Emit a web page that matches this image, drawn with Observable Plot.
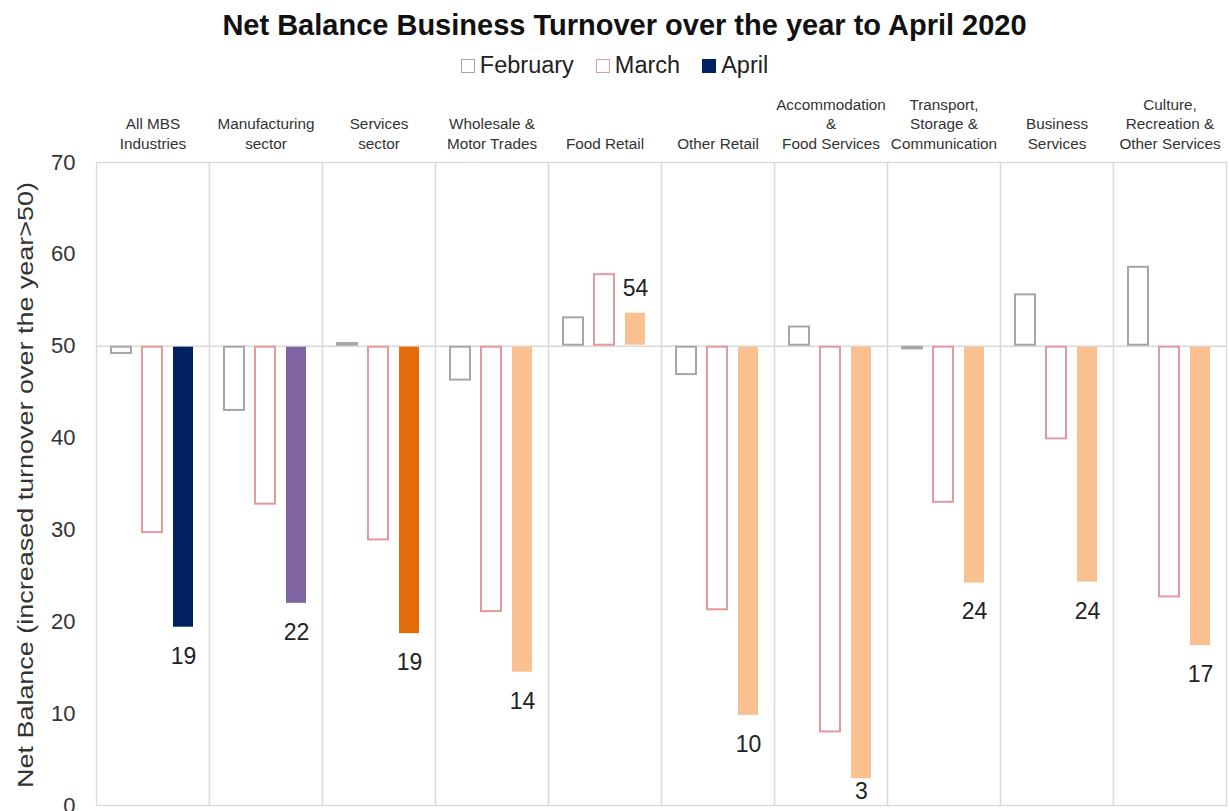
<!DOCTYPE html>
<html>
<head>
<meta charset="utf-8">
<script src="https://cdn.jsdelivr.net/npm/d3@7"></script>
<script src="https://cdn.jsdelivr.net/npm/@observablehq/plot@0.6"></script>
<style>
  body { margin: 0; background: #fff; font-family: "Liberation Sans", Arial, sans-serif; }
  #title { height: 46px; line-height: 50px; text-align: center; font-weight: bold; font-size: 29px; color: #111; padding-left: 20px; white-space: nowrap; }
  #legend { height: 39px; display: flex; justify-content: center; align-items: center; gap: 22px; font-size: 23.5px; color: #222; padding-left: 0px; }
  #legend span.item { display: inline-flex; align-items: center; }
  #legend span.sw { display: inline-block; width: 14px; height: 14px; margin-right: 5px; box-sizing: border-box; }
  #chart svg { display: block; }
</style>
</head>
<body>
<div id="title">Net Balance Business Turnover over the year to April 2020</div>
<div id="legend"></div>
<div id="chart"></div>
<script>
const categories = [
  "All MBS\nIndustries",
  "Manufacturing\nsector",
  "Services\nsector",
  "Wholesale &\nMotor Trades",
  "Food Retail",
  "Other Retail",
  "Accommodation\n&\nFood Services",
  "Transport,\nStorage &\nCommunication",
  "Business\nServices",
  "Culture,\nRecreation &\nOther Services"
];
const months = ["February", "March", "April"];
const february = [49.1, 42.9, 50.4, 46.2, 53.2, 46.8, 52.2, 49.6, 55.7, 58.7];
const march    = [29.6, 32.7, 28.8, 21.0, 57.9, 21.2, 7.9, 32.9, 39.8, 22.6];
const april    = [19.3, 21.9, 18.6, 14.4, 53.7, 9.7, 2.8, 24.1, 24.2, 17.3];
const yTicks = [0, 10, 20, 30, 40, 50, 60, 70];
const yLabel = "Net Balance (increased turnover over the year>50)";

const febStroke = "#a6a6a6";
const marStroke = "#e39a9d";
const aprilColors = ["#002060", "#8064a2", "#e46c0a", "#fac090", "#fac090", "#fac090", "#fac090", "#fac090", "#fac090", "#fac090"];

const series = {February: february, March: march, April: april};
const rows = categories.flatMap((c, i) => months.map(m => ({cat: c, month: m, value: series[m][i], i})));
const aprRows = rows.filter(d => d.month === "April");

// Legend
const legend = document.getElementById("legend");
[["February", "#fff", febStroke], ["March", "#fff", marStroke], ["April", "#002060", "#002060"]].forEach(([t, f, s]) => {
  const it = document.createElement("span"); it.className = "item";
  const sw = document.createElement("span"); sw.className = "sw";
  sw.style.background = f; sw.style.border = `1.5px solid ${s}`;
  it.appendChild(sw); it.appendChild(document.createTextNode(t));
  legend.appendChild(it);
});

const chart = Plot.plot({
  width: 1229,
  height: 726,
  marginTop: 77,
  marginBottom: 6,
  marginLeft: 93,
  marginRight: 1,
  style: {fontFamily: "Liberation Sans, Arial, sans-serif", background: "#fff"},
  fx: {domain: categories, padding: 0, label: null},
  x: {domain: months, paddingInner: 0.29, paddingOuter: 0.42, axis: null},
  y: {domain: [0, 70]},
  color: {type: "identity"},
  marks: [
    Plot.frame({stroke: "#d9d9d9", strokeWidth: 1.3}),
    Plot.ruleY([50], {stroke: "#d9d9d9", strokeWidth: 1.5}),
    Plot.axisFx({anchor: "top", label: null, tickSize: 0, tickPadding: 14, fontSize: 15.3, lineHeight: 1.25, fill: "#333"}),
    Plot.axisY({ticks: yTicks, tickSize: 0, tickPadding: 21, fontSize: 22, fill: "#333", label: null}),
    Plot.text([yLabel], {fx: () => categories[0], frameAnchor: "left", textAnchor: "middle", rotate: -90, dx: -71, dy: 1, fontSize: 22, fill: "#333", text: d => d}),
    Plot.barY(rows, {
      fx: "cat", x: "month", y1: 50, y2: "value",
      fill: d => d.month === "April" ? aprilColors[d.i] : "#fff",
      stroke: d => d.month === "February" ? febStroke : d.month === "March" ? marStroke : aprilColors[d.i],
      strokeWidth: d => d.month === "April" ? 0 : 2,
      inset: 1
    }),
    Plot.text(aprRows.filter(d => d.value > 50), {fx: "cat", x: "month", y: "value", text: d => Math.round(d.value), dy: -24, fontSize: 23, fill: "#222"}),
    Plot.text(aprRows.filter(d => d.value < 50 && d.value >= 5), {fx: "cat", x: "month", y: "value", text: d => Math.round(d.value), dy: 28, fontSize: 23, fill: "#222"}),
    Plot.text(aprRows.filter(d => d.value < 5), {fx: "cat", x: "month", y: "value", text: d => Math.round(d.value), dy: 12, fontSize: 23, fill: "#222"})
  ]
});
d3.select(chart).selectAll("text")
  .filter(function() { return this.textContent === yLabel; })
  .attr("textLength", 606).attr("lengthAdjust", "spacingAndGlyphs");
document.getElementById("chart").appendChild(chart);
</script>
</body>
</html>
